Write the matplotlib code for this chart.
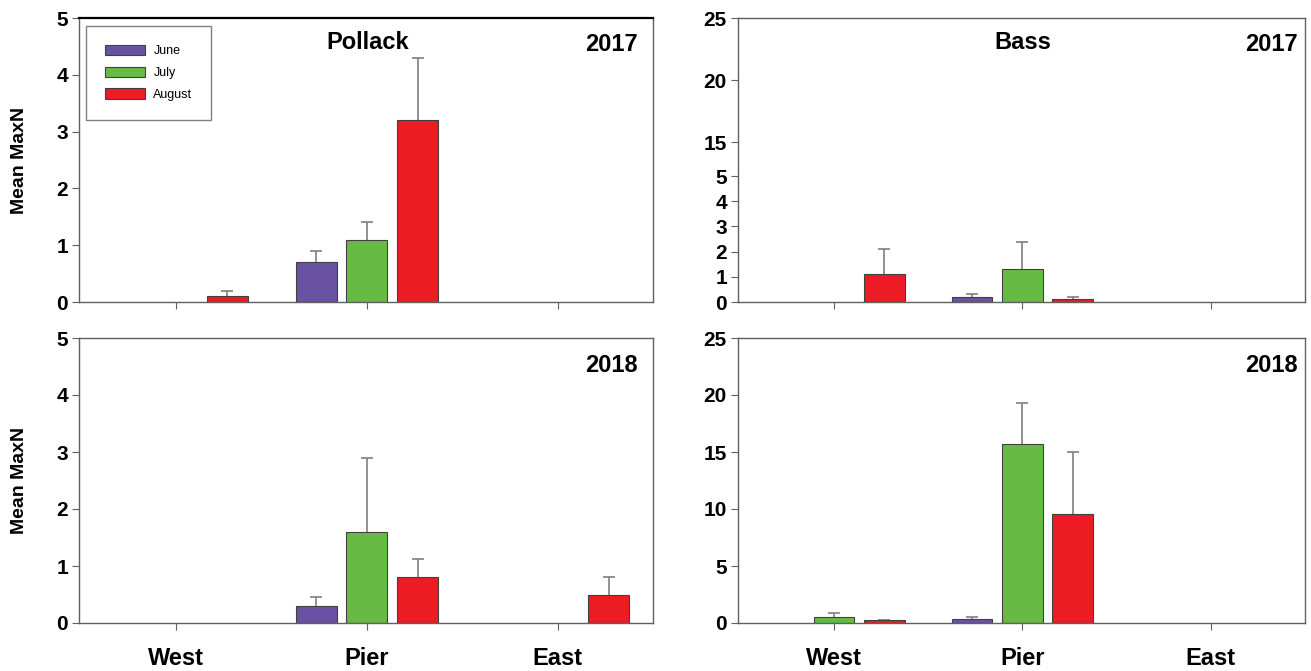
import numpy as np
import matplotlib
matplotlib.use("Agg")
from matplotlib import pyplot as plt
from matplotlib.patches import Patch

plt.rcParams['font.family'] = ['Liberation Sans Narrow', 'Liberation Sans', 'DejaVu Sans']

# data
sites = ['West', 'Pier', 'East']
months = ['June', 'July', 'August']
colors = ['#6a52a3', '#67bb45', '#ed1c24']

pollack_2017 = [[np.nan, 0.7, np.nan], [np.nan, 1.1, np.nan], [0.1, 3.2, np.nan]]
pollack_2017_err = [[0, 0.2, 0], [0, 0.3, 0], [0.1, 1.1, 0]]
bass_2017 = [[np.nan, 0.2, np.nan], [np.nan, 1.3, np.nan], [1.1, 0.1, np.nan]]
bass_2017_err = [[0, 0.1, 0], [0, 1.1, 0], [1.0, 0.1, 0]]
pollack_2018 = [[np.nan, 0.3, np.nan], [np.nan, 1.6, np.nan], [np.nan, 0.8, 0.5]]
pollack_2018_err = [[0, 0.15, 0], [0, 1.3, 0], [0, 0.33, 0.3]]
bass_2018 = [[np.nan, 0.35, np.nan], [0.5, 15.7, np.nan], [0.25, 9.6, np.nan]]
bass_2018_err = [[0, 0.15, 0], [0.4, 3.6, 0], [0.05, 5.4, 0]]

# piecewise axis for Bass 2017 (0-5 stretched, 15-25 compressed)
brk_data = [0, 5, 15, 25]
brk_disp = [0, 126, 160, 284]


def fwd(y):
    return np.interp(y, brk_data, brk_disp)


def inv(y):
    return np.interp(y, brk_disp, brk_data)


def draw_panel(ax, vals, errs, ymax, yticks, year, yr_x, title=None, ylabel=False, xlabels=False):
    x = np.arange(len(sites))
    w = 0.215
    off = [-0.267, 0, 0.267]
    for i in range(len(months)):
        v = np.array(vals[i], dtype=float)
        e = np.array(errs[i], dtype=float)
        ok = ~np.isnan(v)
        ax.bar(x[ok] + off[i], v[ok], w, color=colors[i], edgecolor='#404040',
               linewidth=0.8, zorder=2)
        # upper error only, cap at top
        ax.vlines(x[ok] + off[i], v[ok], v[ok] + e[ok], color='#7f7f7f', lw=1.2, zorder=1)
        ax.plot(x[ok] + off[i], v[ok] + e[ok], ls='none', marker='_', ms=9,
                mew=1.2, color='#7f7f7f', zorder=1)
    ax.set_xlim(-0.51, 2.5)
    ax.set_ylim(0, ymax)
    ax.set_yticks(yticks)
    ax.set_yticklabels([str(t) for t in yticks], fontsize=15, fontweight='bold')
    ax.set_xticks(x)
    if xlabels:
        ax.set_xticklabels(sites, fontsize=17, fontweight='bold')
    else:
        ax.set_xticklabels([])
    ax.tick_params(axis='both', direction='out', length=5, color='#606060', pad=3)
    ax.tick_params(axis='x', pad=12)
    for s in ax.spines.values():
        s.set_color('#606060')
        s.set_linewidth(1.0)
    if ylabel:
        ax.set_ylabel('Mean MaxN', fontsize=14, fontweight='bold',
                      family=['Liberation Sans', 'DejaVu Sans'], labelpad=20)
    if title:
        ax.text(0.503, 0.915, title, transform=ax.transAxes, ha='center', va='center',
                fontsize=17, fontweight='bold')
    ax.text(yr_x, 0.905, year, transform=ax.transAxes, ha='right', va='center',
            fontsize=17, fontweight='bold')


fig = plt.figure(figsize=(13.11, 6.71), dpi=100)
W, H = 1311.0, 671.0
ax1 = fig.add_axes([79 / W, 1 - 302 / H, 574 / W, 284 / H])
ax2 = fig.add_axes([738 / W, 1 - 302 / H, 567 / W, 284 / H])
ax3 = fig.add_axes([79 / W, 1 - 623 / H, 574 / W, 285 / H])
ax4 = fig.add_axes([738 / W, 1 - 623 / H, 567 / W, 285 / H])

draw_panel(ax1, pollack_2017, pollack_2017_err, 5, [0, 1, 2, 3, 4, 5], '2017', 0.974,
           title='Pollack', ylabel=True)
ax1.spines['top'].set_color('black')
ax1.spines['top'].set_linewidth(1.6)

ax2.set_yscale('function', functions=(fwd, inv))
draw_panel(ax2, bass_2017, bass_2017_err, 25, [0, 1, 2, 3, 4, 5, 15, 20, 25], '2017', 0.987,
           title='Bass')
ax2.yaxis.set_minor_locator(matplotlib.ticker.NullLocator())

draw_panel(ax3, pollack_2018, pollack_2018_err, 5, [0, 1, 2, 3, 4, 5], '2018', 0.974,
           ylabel=True, xlabels=True)
draw_panel(ax4, bass_2018, bass_2018_err, 25, [0, 5, 10, 15, 20, 25], '2018', 0.987,
           xlabels=True)

handles = [Patch(facecolor=c, edgecolor='#404040', linewidth=0.8) for c in colors]
leg = ax1.legend(handles, months, loc='upper left', bbox_to_anchor=(0.012, 0.972),
                 frameon=True, fancybox=False, borderpad=1.5,
                 handlelength=3.2, handleheight=0.9, labelspacing=0.75,
                 handletextpad=0.7, borderaxespad=0,
                 prop={'family': ['Liberation Sans', 'DejaVu Sans'], 'size': 9})
leg.get_frame().set_edgecolor('#606060')
leg.get_frame().set_linewidth(1.0)

fig.savefig('out.png', dpi=100)
